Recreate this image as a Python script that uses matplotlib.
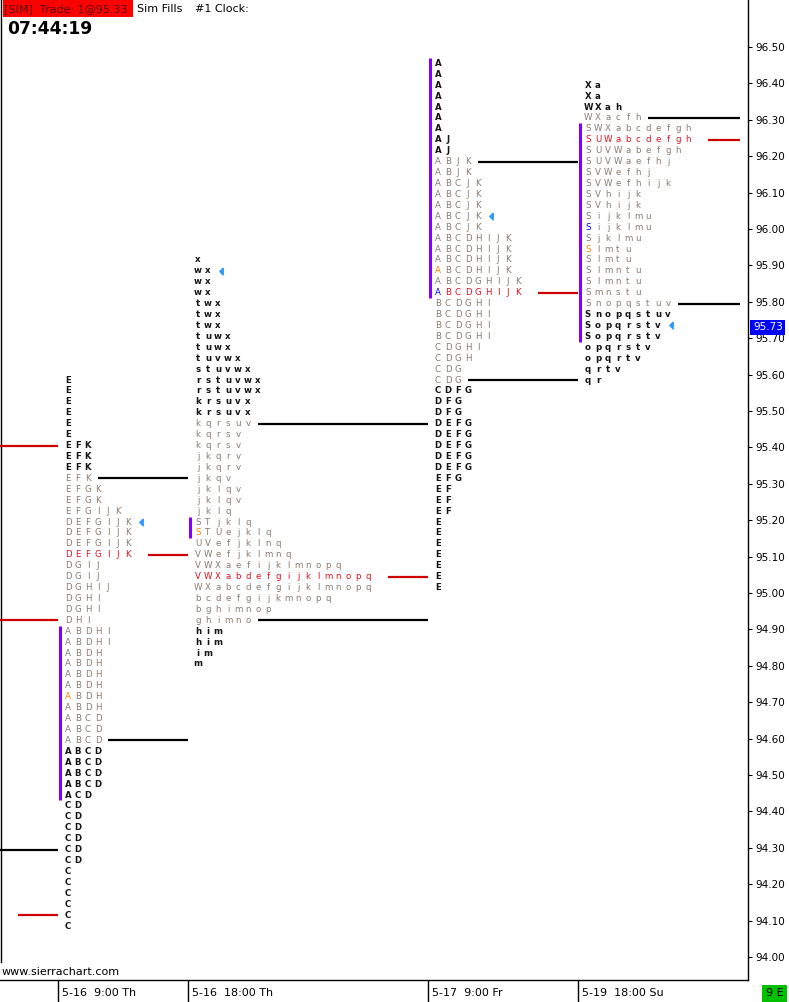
import numpy as np
import matplotlib
matplotlib.use('Agg')
import matplotlib.pyplot as plt
from matplotlib.patches import Rectangle

W, H = 789, 1002

# sessions on the time axis (x in chart pixels)
sessions = ['5-16  9:00 Th', '5-16  18:00 Th', '5-17  9:00 Fr', '5-19  18:00 Su']
session_x = [58, 188, 428, 578]
chart_right = 740

tick_size = 0.03
prof_top = [95.585, 95.915, 96.455, 96.395]

p1 = ["E"] * 6 + ["EFK"] * 4 + ["EFGK"] * 2 + ["EFGIJK"] + ["DEFGIJK"] * 4 + \
     ["DGIJ"] * 2 + ["DGHIJ"] + ["DGHI"] * 2 + ["DHI"] + ["ABDHI"] * 2 + ["ABDH"] * 6 + \
     ["ABCD"] * 7 + ["ACD"] + ["CD"] * 6 + ["C"] * 6

p2 = ["x", "wx", "wx", "wx", "twx", "twx", "twx", "tuwx", "tuwx", "tuvwx", "stuvwx",
      "rstuvwx", "rstuvwx", "krsuvx", "krsuvx", "kqrsuv", "kqrsv", "kqrsv", "jkqrv", "jkqrv",
      "jkqv", "jklqv", "jklqv", "jklq", "STjklq", "STUejklq", "UVefjklnq", "VWefjklmnq",
      "VWXaefijklmnopq", "VWXabdefgijklmnopq", "WXabcdefgijklmnopq", "bcdefgijkmnopq",
      "bghimnop", "ghimno", "him", "him", "im", "m"]

p3 = ["A"] * 7 + ["AJ"] * 2 + ["ABJK"] * 2 + ["ABCJK"] * 5 + ["ABCDHIJK"] * 4 + \
     ["ABCDGHIJK"] * 2 + ["BCDGHI"] * 4 + ["CDGHI", "CDGH", "CDG", "CDG", "CDFG", "DFG", "DFG"] + \
     ["DEFG"] * 5 + ["EFG"] + ["EF"] * 3 + ["E"] * 7

p4 = ["Xa", "Xa", "WXah", "WXacfh", "SWXabcdefgh", "SUWabcdefgh", "SUVWabefgh", "SUVWaefhj",
      "SVWefhj", "SVWefhijk", "SVhijk", "SVhijk", "Sijklmu", "Sijklmu", "Sjklmu", "Slmtu",
      "Slmtu", "Slmntu", "Slmntu", "Smnstu", "Snopqstuv", "Snopqstuv", "Sopqrstv", "Sopqrstv",
      "opqrstv", "opqrtv", "qrtv", "qr"]

profiles = [p1, p2, p3, p4]
vah_row = [10, 16, 10, 4]
val_row = [34, 34, 30, 21]
poc_row = [17, 30, 22, 6]
ib_rows = [(24, 39), (25, 26), (1, 22), (5, 24)]
close_row = [14, 2, 15, 23]
orange_marks = [(0, 30), (1, 26), (2, 20), (3, 16)]
blue_marks = [(2, 22), (3, 14)]

prior_levels = [95.405, 94.925, 94.295, 94.115]
prior_colors = ['#d00000', '#d00000', 'black', '#d00000']
prior_start = [0, 0, 0, 18]

last_price = 95.73
price_ticks = np.round(np.arange(94.0, 96.501, 0.1), 2)

col_w = 10
dark = '#141414'
light = '#8a7a6e'
red = '#e0101e'

fig = plt.figure(figsize=(W / 100, H / 100), dpi=100)
ax = fig.add_axes([0, 22 / H, 748 / W, 980 / H])
p_top = 96.50 + 47 / 364
p_bot = p_top - 980 / 364
ax.set_xlim(0, 748)
ax.set_ylim(p_bot, p_top)
for s in ['top', 'left']:
    ax.spines[s].set_visible(False)
ax.spines['right'].set_linewidth(1)
ax.spines['bottom'].set_linewidth(1)
ax.axvline(1, ymin=(980 - 962) / 980, ymax=1, color='black', lw=1)
ax.set_xticks([])
ax.yaxis.tick_right()
ax.set_yticks(price_ticks)
ax.set_yticklabels([f'{t:.2f}' for t in price_ticks], fontsize=7.5, family='DejaVu Sans')
ax.tick_params(axis='y', length=3, width=0.8, pad=2.5)

tri = [(0.5, 1.0), (0.5, -1.0), (-0.5, 0.0), (0.5, 1.0)]

for k, rows in enumerate(profiles):
    x0 = session_x[k]
    x_end = session_x[k + 1] if k + 1 < len(session_x) else chart_right
    for i, row in enumerate(rows):
        r = i + 1
        price = prof_top[k] - i * tick_size
        in_va = vah_row[k] <= r <= val_row[k]
        for j, ch in enumerate(row):
            if r == poc_row[k]:
                c, fw = red, 'normal'
            elif in_va:
                c, fw = light, 'normal'
            else:
                c, fw = dark, 'bold'
            if (k, r) in orange_marks and j == 0:
                c = '#ff8000'
            if (k, r) in blue_marks and j == 0:
                c = '#0000ff'
            ax.text(x0 + col_w * (j + 1), price, ch, fontsize=6.2, color=c, fontweight=fw,
                    ha='center', va='center', family='DejaVu Sans')
    # value area and POC rays
    for r, col, extra in [(vah_row[k], 'black', 1), (val_row[k], 'black', 1), (poc_row[k], '#d00000', 2)]:
        n = len(rows[r - 1])
        price = prof_top[k] - (r - 1) * tick_size
        ax.hlines(price, x0 + col_w * (n + extra), x_end, color=col, lw=1.6)
    # initial balance bar
    a, b = ib_rows[k]
    ax.vlines(x0 + 1.7, prof_top[k] - (b - 1) * tick_size - tick_size / 2,
              prof_top[k] - (a - 1) * tick_size + tick_size / 2, color='#8000ff', lw=2.2)
    # close marker
    r = close_row[k]
    n = len(rows[r - 1])
    ax.plot(x0 + col_w * (n + 1.3), prof_top[k] - (r - 1) * tick_size, marker=tri,
            color='#3399ff', markersize=5, linestyle='none')

for lvl, c, xs in zip(prior_levels, prior_colors, prior_start):
    ax.hlines(lvl, xs, session_x[0], color=c, lw=1.6)

ax.text(753, last_price, f'{last_price:.2f}', fontsize=7.5, color='white', va='center', ha='left',
        family='DejaVu Sans', clip_on=False,
        bbox=dict(facecolor='#0000ff', edgecolor='none', pad=1.8))

# time axis strip
ax2 = fig.add_axes([0, 0, 748 / W, 22 / H])
ax2.set_xlim(0, 748)
ax2.set_ylim(0, 1)
ax2.axis('off')
for xs, lab in zip(session_x, sessions):
    ax2.axvline(xs, color='black', lw=1)
    ax2.text(xs + 4, 0.42, lab, fontsize=8, va='center', ha='left', family='DejaVu Sans')

# header
fig.add_artist(Rectangle((3 / W, 1 - 17 / H), 130 / W, 17 / H, transform=fig.transFigure,
                         facecolor='#ff0000', edgecolor='none'))
fig.text(4 / W, 1 - 9 / H, '[SIM]  Trade: 1@95.33', fontsize=8, color='#5a0000',
         va='center', ha='left', family='DejaVu Sans')
fig.text(137 / W, 1 - 9 / H, 'Sim Fills', fontsize=8, color='black', va='center', ha='left',
         family='DejaVu Sans')
fig.text(195 / W, 1 - 9 / H, '#1 Clock:', fontsize=8, color='black', va='center', ha='left',
         family='DejaVu Sans')
fig.text(7 / W, 1 - 29 / H, '07:44:19', fontsize=12.3, fontweight='bold', color='black',
         va='center', ha='left', family='DejaVu Sans')
fig.text(2 / W, 1 - 972 / H, 'www.sierrachart.com', fontsize=8, color='black', va='center',
         ha='left', family='DejaVu Sans')

fig.add_artist(Rectangle((762 / W, 0), 25 / W, 17 / H, transform=fig.transFigure,
                         facecolor='#00c000', edgecolor='none'))
fig.text(774.5 / W, 8.5 / H, '9 E', fontsize=8, color='black', va='center', ha='center',
         family='DejaVu Sans')

fig.savefig('out.png', dpi=100)
